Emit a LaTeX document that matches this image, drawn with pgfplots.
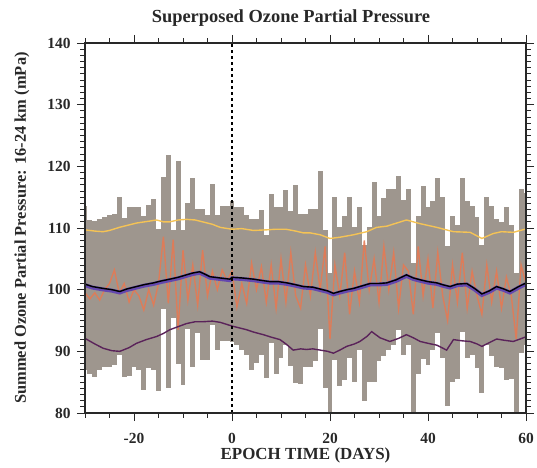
\documentclass[border=0pt]{standalone}
\usepackage{pgfplots}
\pgfplotsset{compat=1.18}
\usepackage{pgfplotstable}
\usepackage{fontspec}
\setmainfont{Liberation Serif}
\definecolor{bargray}{RGB}{158,150,142}
\definecolor{upyel}{RGB}{245,195,85}
\definecolor{lowpur}{RGB}{90,35,90}
\definecolor{bandpur}{RGB}{100,72,175}
\definecolor{jagor}{RGB}{228,122,84}
\definecolor{txt}{RGB}{40,40,40}

\pgfplotstableread{
x lo hi
-30 87.0 113.6
-29 86.4 111.3
-28 85.8 111.1
-27 87.0 111.5
-26 87.4 111.8
-25 87.4 112.1
-24 87.8 112.3
-23 89.4 115.0
-22 85.9 111.7
-21 86.0 113.4
-20 87.5 113.4
-19 87.0 113.4
-18 83.8 112.0
-17 87.3 113.7
-16 87.0 114.7
-15 83.5 109.8
-14 96.8 118.2
-13 84.0 121.8
-12 95.4 109.7
-11 88.0 120.8
-10 84.6 109.7
-9 93.7 114.1
-8 87.5 118.1
-7 93.0 113.1
-6 88.6 113.1
-5 88.6 112.1
-4 94.3 117.1
-3 90.2 112.1
-2 91.6 113.5
-1 91.6 113.5
0 91.5 114.4
1 91.0 113.4
2 90.2 113.4
3 89.4 112.1
4 87.0 111.4
5 88.1 111.4
6 89.4 112.9
7 85.6 108.9
8 91.3 115.5
9 86.3 113.4
10 88.9 113.4
11 91.0 116.2
12 87.6 112.7
13 84.8 117.0
14 84.7 112.3
15 87.5 112.3
16 87.5 113.0
17 88.5 113.0
18 93.6 119.3
19 84.0 109.7
20 79.7 102.7
21 88.6 115.1
22 84.4 110.2
23 85.4 112.0
24 88.9 115.1
25 85.1 110.2
26 90.2 113.4
27 82.0 107.3
28 85.0 110.2
29 85.1 117.4
30 88.5 112.0
31 89.3 114.8
32 90.2 116.3
33 91.0 116.3
34 93.4 118.4
35 89.4 114.5
36 91.0 116.4
37 79.0 104.3
38 86.3 111.9
39 88.7 116.8
40 87.8 113.4
41 90.2 114.3
42 93.0 118.1
43 89.0 115.1
44 81.2 107.0
45 85.1 111.9
46 85.5 110.5
47 93.2 118.1
48 88.9 114.3
49 89.4 113.6
50 87.3 111.8
51 83.2 107.3
52 91.0 115.0
53 89.2 113.6
54 87.5 111.4
55 87.3 111.0
56 85.4 113.4
57 85.5 110.5
58 79.0 102.7
59 89.7 116.4
60 91.0 115.6
}\bartab

\pgfplotstableread{
x y
-30 99.5
-29 98.5
-28 99.5
-27 98.3
-26 100
-25 101
-24 103.2
-23 99.4
-22 101
-21 98
-20 100
-19 99
-18 96.7
-17 100
-16 97.5
-15 101
-14 108.6
-13 97.8
-12 108.1
-11 93.5
-10 106.4
-9 98.3
-8 104
-7 97.5
-6 106.4
-5 99
-4 103
-3 100
-2 103.2
-1 101.5
0 103
1 97.2
2 101
3 97.8
4 104.3
5 100
6 103.7
7 98
8 104
9 97
10 105
11 98
12 106
13 99
14 97
15 104
16 99
17 106
18 100
19 107
20 92
21 104
22 99
23 106
24 96
25 103
26 98
27 108
28 100
29 105
30 98
31 107
32 100
33 106
34 97
35 104
36 103
37 96
38 107
39 99
40 105
41 97
42 106
43 99
44 95
45 104
46 98
47 106
48 97
49 103
50 99
51 96
52 104
53 98
54 103
55 97
56 102
57 99
58 92
59 104
60 101
}\dailytab

\pgfplotstableread{
x y
-30 109.7
-28 109.5
-26.3 109.4
-25 109.6
-23 110.1
-21 110.5
-19.5 110.8
-17 111.1
-15.4 111.3
-14 111.0
-12.7 111.0
-11 111.3
-9.3 111.4
-7.5 111.3
-6 111.0
-4 110.6
-2.4 110.1
0 109.8
2 109.9
4.4 109.6
7 109.7
9 109.8
11 109.8
13 109.5
14.6 109.2
16 109.2
18 108.9
20 108.3
22 108.5
24.8 108.9
27.5 109.4
29.5 110.1
31.6 110.3
34 110.9
35.6 111.3
38.4 110.7
41.8 110.1
45.2 109.4
48.6 109.3
51 108.3
53.3 109.1
55 109.4
57.4 109.3
59.8 109.8
60 109.8
}\uptab

\pgfplotstableread{
x y
-30 92.1
-28 91.2
-26.3 90.5
-24.5 90.1
-22.9 90.0
-21 90.6
-19.5 91.3
-17.5 91.9
-15.4 92.4
-14 92.9
-12.7 93.5
-11 94.0
-9.3 94.5
-7.5 94.8
-5.9 94.8
-4 94.9
-2.4 94.7
0 94.1
1.5 93.8
3 93.5
4.5 93.1
6.4 92.7
8 92.3
9.8 91.9
11 91.2
12.5 90.2
14 90.4
15.2 90.3
16.5 90.4
18 90.2
19.5 90.0
20.7 89.7
22 90.2
23.4 90.8
25 91.2
26.1 91.6
27.5 92.4
28.5 93.2
30.2 92.2
32.2 91.6
34 92.1
35.6 92.7
37 92.2
38.4 91.6
40 91.3
41.8 91.0
43.8 90.2
45.2 91.9
47 91.7
48.6 91.6
50 91.2
51 90.8
52.5 91.4
54 92.0
55.5 91.8
57.4 91.6
58.8 92.0
59.8 92.3
60 92.3
}\lowtab

\pgfplotstableread{
x y
-30 100.9
-28.5 100.5
-26.3 100.2
-24.5 100.0
-22.9 99.7
-21.5 100.1
-19.5 100.5
-18 100.8
-16 101.1
-14.5 101.4
-12.7 101.7
-11 102.0
-9.3 102.4
-8 102.7
-6.6 102.9
-5.5 102.5
-4.5 102.1
-2.5 101.9
-0.4 101.7
0 102.0
2 101.9
4.4 101.7
6 101.5
7.8 101.3
9.5 101.3
11.2 101.1
13 100.8
14.6 100.5
16.5 100.4
18 100.1
19.5 99.8
20.7 99.4
22 99.7
23.5 100.0
24.8 100.2
26.5 100.6
28.2 101.0
30 101.0
31.6 101.1
33.5 101.6
35.6 102.4
37 101.9
38.4 101.6
40 101.3
41.8 101.1
43 100.8
44.5 100.5
46 100.9
47.9 101.0
49.5 100.2
51 99.3
52.5 99.8
54 100.5
55.5 100.1
56.7 99.7
58.5 100.5
59.8 101.0
60 101.0
}\meantab

\begin{document}
\begin{tikzpicture}
\begin{axis}[
  at={(0,0)}, anchor=south west,
  scale only axis, width=441bp, height=370bp,
  xmin=-30, xmax=60, ymin=80, ymax=140,
  xtick={-20,0,20,40,60},
  minor xtick={-30,-25,...,60},
  ytick={80,90,...,140},
  minor ytick={80,81,...,140},
  tick align=outside,
  major tick length=8bp, minor tick length=4.5bp,
  axis line style={txt, line width=1.1pt},
  every tick/.style={txt, line width=0.9pt},
  tick label style={font=\bfseries\fontsize{15.5}{17}\selectfont, text=txt},
  /pgf/number format/assume math mode=true,
  xticklabel style={yshift=-9bp},
  yticklabel style={xshift=-3bp},
  axis on top,
  clip=true,
  title={Superposed Ozone Partial Pressure},
  title style={font=\bfseries\fontsize{18.5}{21}\selectfont, text=txt, at={(axis description cs:0.467,1.05)}, anchor=center},
  xlabel={EPOCH TIME (DAYS)},
  xlabel style={font=\bfseries\fontsize{17}{20}\selectfont, text=txt, at={(axis description cs:0.5,-0.1135)}, anchor=center},
  ylabel={Summed Ozone Partial Pressure: 16-24 km (mPa)},
  ylabel style={font=\bfseries\fontsize{16.5}{19}\selectfont, text=txt, at={(axis description cs:-0.143,0.5)}, anchor=center},
]
\addplot[ycomb, draw=bargray, line width=4.95bp, mark=none] table[x=x,y=hi]{\bartab};
\addplot[ycomb, draw=white, line width=4.95bp, mark=none] table[x=x,y=lo]{\bartab};
\addplot[jagor, line width=1.4pt, opacity=0.9, mark=none] table[x=x,y=y]{\dailytab};
\addplot[upyel, line width=1.4pt, mark=none] table[x=x,y=y]{\uptab};
\addplot[lowpur, line width=1.4pt, mark=none] table[x=x,y=y]{\lowtab};
\addplot[bandpur, line width=4pt, mark=none, yshift=-1pt] table[x=x,y=y]{\meantab};
\addplot[black, line width=1.4pt, mark=none] table[x=x,y=y]{\meantab};
\addplot[black, line width=1.1pt, dash pattern=on 3bp off 3bp, mark=none] coordinates {(0,80) (0,140)};
\end{axis}
\pgfresetboundingbox
\useasboundingbox (-85bp,-55bp) rectangle (452bp,413bp);
\end{tikzpicture}
\end{document}
